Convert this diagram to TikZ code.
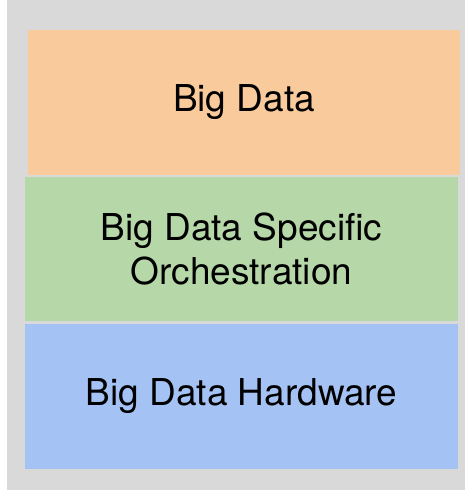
\documentclass[tikz,border=0pt]{standalone}
\usepackage{fontspec}
\setmainfont{TeX Gyre Heros}
\usepackage{xcolor}
\definecolor{framegray}{HTML}{D9D9D9}
\definecolor{layerorange}{HTML}{F9CB9C}
\definecolor{layergreen}{HTML}{B6D7A8}
\definecolor{layerblue}{HTML}{A4C2F4}

\begin{document}
\begin{tikzpicture}[
    x=1pt, y=-1pt,
    layer/.style={rectangle, inner sep=0pt, minimum width=433pt, minimum height=145pt,
      align=center, font=\fontsize{37}{44}\selectfont, text=black},
  ]
  % canvas and grey frame
  \fill[white] (0,0) rectangle (465,490);
  \useasboundingbox (0,0) rectangle (465,490);
  \fill[framegray] (7,0) rectangle (465,490);

  % ================= the three layers, top to bottom
  \node[layer, fill=layerorange, minimum width=432pt] (bigdata) at (244,102.5) {Big Data};
  \node[layer, fill=layergreen, minimum height=144pt] (orchestration) at (241.5,249)
    {Big Data Specific\\Orchestration};
  \node[layer, fill=layerblue] (hardware) at (241.5,396.5) {Big Data Hardware};
\end{tikzpicture}
\end{document}
